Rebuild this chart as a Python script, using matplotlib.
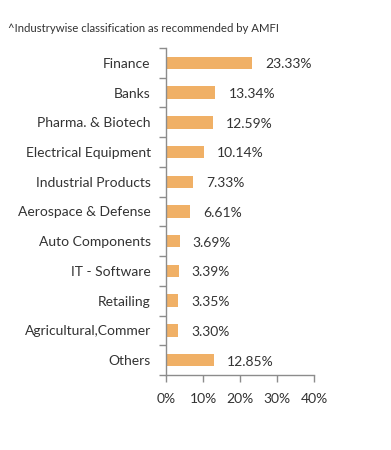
import matplotlib
matplotlib.use("Agg")
import matplotlib.pyplot as plt
import numpy as np

categories = ["Finance", "Banks", "Pharma. & Biotech", "Electrical Equipment",
              "Industrial Products", "Aerospace & Defense", "Auto Components",
              "IT - Software", "Retailing", "Agricultural,Commer", "Others"]
values = [23.33, 13.34, 12.59, 10.14, 7.33, 6.61, 3.69, 3.39, 3.35, 3.30, 12.85]
xticks = [0, 10, 20, 30, 40]
title = "^Industrywise classification as recommended by AMFI"

plt.rcParams['font.family'] = ['Lato', 'DejaVu Sans']
txt = "#333333"
axc = "#8c8c8c"

fig = plt.figure(figsize=(3.91, 4.5), dpi=100)
ax = fig.add_axes([166/391, 1-375/450, (314-166)/391, (375-48)/450])

n = len(categories)
y = np.arange(n)
ax.barh(y, values, height=0.42, color="#F0B066")
ax.set_ylim(n-0.5, -0.5)
ax.set_xlim(0, 40)

ax.set_yticks(y)
ax.set_yticklabels(categories, fontsize=10, color=txt)
ax.set_yticks(np.arange(-0.5, n, 1), minor=True)
ax.tick_params(axis='y', which='major', length=0, pad=11)
ax.tick_params(axis='y', which='minor', length=5, color=axc, width=1)

ax.set_xticks(xticks)
ax.set_xticklabels([f"{t}%" for t in xticks], fontsize=10, color=txt)
ax.tick_params(axis='x', length=5, color=axc, width=1, pad=8)

for s in ['top', 'right']:
    ax.spines[s].set_visible(False)
for s in ['left', 'bottom']:
    ax.spines[s].set_color(axc)
    ax.spines[s].set_linewidth(1)

for yi, v in zip(y, values):
    ax.annotate(f"{v:.2f}%", (v, yi), xytext=(9.5, -1), textcoords='offset points',
                va='center', ha='left', fontsize=10, color=txt)

fig.text(8/391, 1-29/450, title, fontsize=8.2, color=txt, va='center', ha='left')

fig.savefig("out.png", dpi=100)
